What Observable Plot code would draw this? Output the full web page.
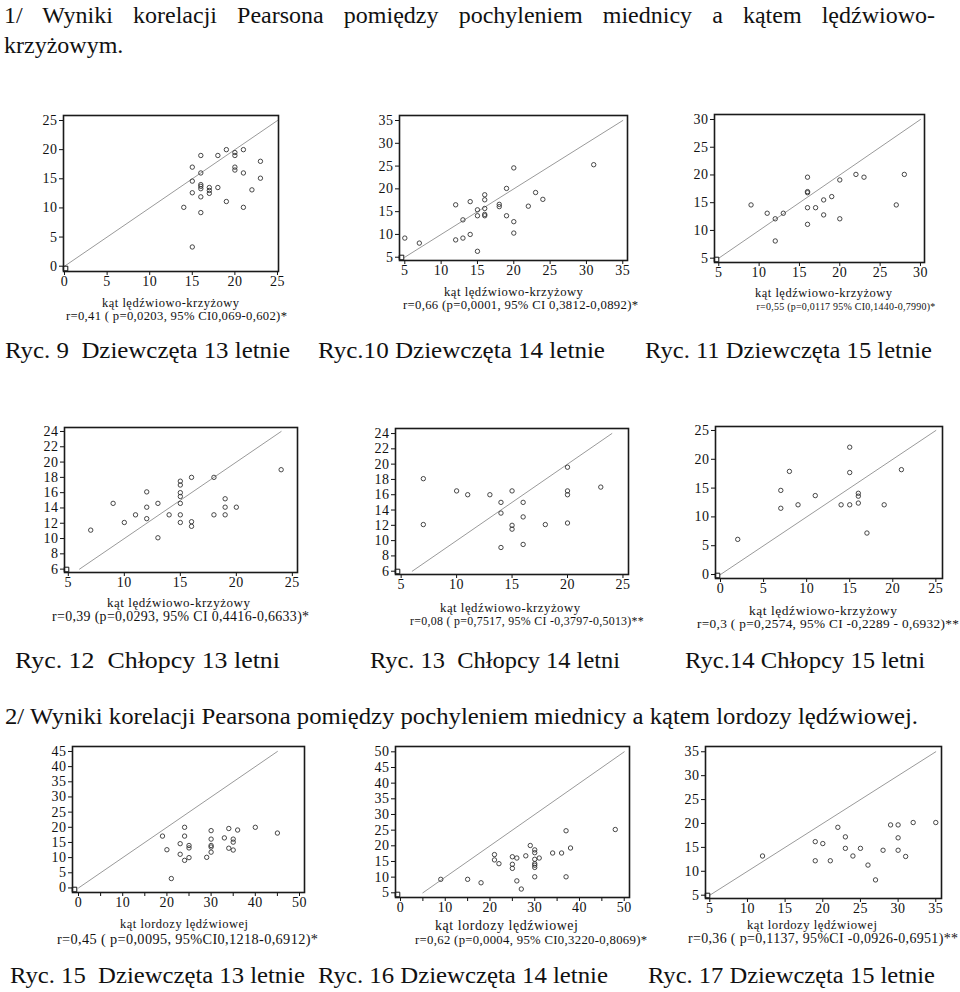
<!DOCTYPE html>
<html>
<head>
<meta charset="utf-8">
<script src="https://cdn.jsdelivr.net/npm/d3@7"></script>
<script src="https://cdn.jsdelivr.net/npm/@observablehq/plot@0.6"></script>
<style>
  html, body { margin: 0; padding: 0; background: #fff; }
  #page { position: relative; width: 960px; height: 992px; overflow: hidden; font-family: "Liberation Serif", "Times New Roman", serif; color: #111; }
  #page svg text { font-family: "Liberation Serif", "Times New Roman", serif; font-size: 14px; letter-spacing: 0.5px; }
  .abs { position: absolute; }
  .big { font-size: 24px; line-height: 24px; white-space: pre; }
  .just { white-space: normal; text-align: justify; text-align-last: justify; }
  .fit { white-space: pre; line-height: 0.85; }
</style>
</head>
<body>
<div id="page"></div>
<script>
// ---------- data (x = angle, y = pelvic tilt) ----------
const ryc9 = [[15,17],[16,19],[18,19],[19,20],[20,19.5],[20,19],[21,20],[23,18],[20,17],[20,16.5],[21,16],[16,16],[15,14.6],[16,14],[16,13.7],[16,13.3],[17,13.5],[17,13],[17,12.5],[18,13.5],[15,12.6],[16,11.9],[19,11.1],[22,13.1],[23,15.1],[14,10.1],[21,10.1],[16,9.2],[15,3.3]];
const ryc10 = [[5,9.2],[7,8.1],[12,16.5],[12,8.8],[13,13.2],[13,9.2],[14,17.2],[14,10],[15,15.4],[15,14.1],[15,6.3],[16,18.7],[16,17.6],[16,15.7],[16,14.4],[16,14.1],[18,16.6],[18,16.1],[19,20.1],[19,14.1],[20,24.6],[20,12.8],[20,10.3],[22,16.2],[23,19.2],[24,17.7],[31,25.3]];
const ryc11 = [[9,14.6],[11,13.1],[12,12.1],[12,8.1],[13,13.1],[16,19.6],[16,17.0],[16,16.8],[16,14.1],[16,11.1],[17,14.1],[18,15.5],[18,12.8],[19,16.1],[20,19.1],[20,12.1],[22,20.1],[23,19.6],[27,14.6],[28,20.1]];
const ryc12 = [[7,11.1],[9,14.6],[10,12.1],[11,13.1],[12,16.1],[12,14.1],[12,12.6],[13,14.6],[13,10.1],[14,13.1],[15,17.5],[15,17.0],[15,16.0],[15,15.5],[15,14.6],[15,13.1],[15,12.1],[16,18],[16,12.2],[16,11.6],[18,18],[18,13.1],[19,15.2],[19,14.1],[19,13.1],[20,14.1],[24,19]];
const ryc13 = [[7,18.1],[7,12.1],[10,16.5],[11,16],[13,16],[14,15],[14,13.6],[14,9.1],[15,16.5],[15,12],[15,11.5],[16,15],[16,13.1],[16,9.5],[18,12.1],[20,19.6],[20,16.5],[20,16],[20,12.3],[23,17]];
const ryc14 = [[2,6.1],[7,14.6],[7,11.5],[8,17.9],[9,12.1],[11,13.7],[14,12.1],[15,22.1],[15,17.7],[15,12.1],[16,14.1],[16,13.6],[16,12.4],[17,7.2],[19,12.1],[21,18.2]];
const ryc15 = [[19,17.1],[20,12.6],[21,3.1],[23,14.6],[23,11.1],[24,20],[24,17.1],[24,9.1],[25,14],[25,13.2],[25,10],[29,10.1],[30,18.9],[30,16.1],[30,14],[30,13.5],[30,11.8],[33,16.5],[34,19.6],[34,13.1],[35,16.1],[35,15.1],[35,12.5],[36,19.1],[40,20],[45,18.1]];
const ryc16 = [[9,9.3],[15,9.3],[18,8.2],[21,17.2],[21,15.5],[22,14.3],[25,16.5],[25,14.1],[25,12.8],[26,16.1],[26,8.8],[27,6.2],[28,16.8],[29,20.1],[30,18.7],[30,17.8],[30,15.7],[30,14.3],[30,13.8],[30,13.1],[30,10.1],[31,16.1],[34,17.7],[36,17.7],[37,24.8],[37,10.1],[38,19.3],[48,25.2]];
const ryc17 = [[12,13.2],[19,16.2],[19,12.2],[20,15.8],[21,12.2],[22,19.2],[23,17.2],[23,14.8],[24,13.2],[25,14.8],[26,11.3],[27,8.2],[28,14.4],[29,19.7],[30,19.7],[30,17],[30,14.4],[31,13.1],[32,20.2],[35,20.2]];

// ---------- tick labels ----------
const t0_25 = [0,5,10,15,20,25];
const t5_35 = [5,10,15,20,25,30,35];
const t5_30 = [5,10,15,20,25,30];
const t5_25 = [5,10,15,20,25];
const t6_24 = [6,8,10,12,14,16,18,20,22,24];
const t0_50 = [0,5,10,15,20,25,30,35,40,45,50];
const t0_45 = [0,5,10,15,20,25,30,35,40,45];
const t5_50 = [5,10,15,20,25,30,35,40,45,50];

// ---------- identity lines (x = y) ----------
const diag9 = [0,25], diag10 = [5,35], diag11 = [5,30], diag12 = [6,24], diag13 = [6,24], diag14 = [0,25], diag15 = [0,45], diag16 = [5,50], diag17 = [5,35];

// ---------- texts ----------
const labLK = "kąt lędźwiowo-krzyżowy";
const labLL = "kąt lordozy lędźwiowej";
const rTexts = [
  "r=0,41 ( p=0,0203, 95% CI0,069-0,602)*",
  "r=0,66 (p=0,0001, 95% CI 0,3812-0,0892)*",
  "r=0,55 (p=0,0117 95% CI0,1440-0,7990)*",
  "r=0,39 (p=0,0293, 95% CI 0,4416-0,6633)*",
  "r=0,08 ( p=0,7517, 95% CI -0,3797-0,5013)**",
  "r=0,3 ( p=0,2574, 95% CI -0,2289 - 0,6932)**",
  "r=0,45 ( p=0,0095, 95%CI0,1218-0,6912)*",
  "r=0,62 (p=0,0004, 95% CI0,3220-0,8069)*",
  "r=0,36 ( p=0,1137, 95%CI -0,0926-0,6951)**"
];
const title1a = "1/ Wyniki korelacji Pearsona pomiędzy pochyleniem miednicy a kątem lędźwiowo-";
const title1b = "krzyżowym.";
const title2 = "2/ Wyniki korelacji Pearsona pomiędzy pochyleniem miednicy a kątem lordozy lędźwiowej.";
const captions = [
  "Ryc. 9  Dziewczęta 13 letnie", "Ryc.10 Dziewczęta 14 letnie", "Ryc. 11 Dziewczęta 15 letnie",
  "Ryc. 12  Chłopcy 13 letni", "Ryc. 13  Chłopcy 14 letni", "Ryc.14 Chłopcy 15 letni",
  "Ryc. 15  Dziewczęta 13 letnie", "Ryc. 16 Dziewczęta 14 letnie", "Ryc. 17 Dziewczęta 15 letnie"
];

// ---------- layout ----------
// xl / rl: [centerX, centerY, width]
const panels = [
  {data: ryc9,  frame:[63,115,278,271], xd:[-0.12,25.12], yd:[-0.91,25.86], xt:t0_25, yt:t0_25, diag:diag9,  xlab:labLK, xl:[170.5,303,137], rl:[176.5,316,221]},
  {data: ryc10, frame:[399,115,627,260], xd:[4.27,35.65], yd:[4.28,36.1], xt:t5_35, yt:t5_35, diag:diag10, xlab:labLK, xl:[513.5,292,139], rl:[520.5,305,235]},
  {data: ryc11, frame:[714,114,924,262], xd:[4.47,30.5], yd:[4.22,30.9], xt:t5_30, yt:t5_30, diag:diag11, xlab:labLK, xl:[823.5,293,137], rl:[846,307,179]},
  {data: ryc12, frame:[64,427,297,572], xd:[4.66,25.46], yd:[5.56,24.52], xt:t5_25, yt:t6_24, diag:diag12, xlab:labLK, xl:[178.5,603,143], rl:[180.5,616.5,257]},
  {data: ryc13, frame:[395,428,628,574], xd:[4.49,25.5], yd:[5.57,24.66], xt:t5_25, yt:t6_24, diag:diag13, xlab:labLK, xl:[510,608,140], rl:[527,621,234]},
  {data: ryc14, frame:[715,426,942,578], xd:[-0.58,25.77], yd:[-0.69,25.69], xt:t0_25, yt:t0_25, diag:diag14, xlab:labLK, xl:[823,610.5,148], rl:[828,624,262]},
  {data: ryc15, frame:[72,746,304,892], xd:[-1.36,51.13], yd:[-1.5,46.64], xt:t0_50, yt:t0_45, diag:diag15, xlab:labLL, xl:[184,924,128], rl:[187.5,939,261], xEvery:10},
  {data: ryc16, frame:[395,746,629,897], xd:[-1.12,51.18], yd:[3.5,51.7], xt:t0_50, yt:t5_50, diag:diag16, xlab:labLL, xl:[506.5,926,143], rl:[531,940,232], xEvery:10},
  {data: ryc17, frame:[705,746,941,898], xd:[4.43,35.76], yd:[4.31,36.1], xt:t5_35, yt:t5_35, diag:diag17, xlab:labLL, xl:[812,925,130], rl:[823,939,270]}
];
// caption boxes: [left, top, width]
const captionPos = [[5,338,285],[318,338,287],[645,338,287],[15,648,265],[370,648,250],[685,648,240],[10,963,295],[318,963,290],[648,963,287]];

const page = document.getElementById("page");
function addText(txt, cls, left, top, extra) {
  const d = document.createElement("div");
  d.className = "abs " + cls;
  d.textContent = txt;
  d.style.left = left + "px";
  d.style.top = top + "px";
  if (extra) Object.assign(d.style, extra);
  page.appendChild(d);
  return d;
}
// a text line scaled so that it spans a given width, centred on (cx, cy)
function fitText(txt, cx, cy, w, ls) {
  const base = 12;
  const d = addText(txt, "fit", 0, 0, {fontSize: base + "px", letterSpacing: ls + "px"});
  const nat = d.getBoundingClientRect().width - ls;
  const s = base * w / nat;
  d.style.fontSize = s.toFixed(2) + "px";
  d.style.letterSpacing = (ls * s / base).toFixed(2) + "px";
  d.style.left = (cx - w / 2) + "px";
  d.style.top = (cy - s * 0.85 / 2) + "px";
  return d;
}
// a 24px line stretched horizontally to span a given width
function stretchText(txt, left, top, w) {
  const d = addText(txt, "big", left, top);
  const nat = d.getBoundingClientRect().width;
  d.style.transformOrigin = "0 0";
  d.style.transform = "scaleX(" + (w / nat).toFixed(4) + ")";
  return d;
}

// Titles
addText(title1a, "big just", 4, 3, {width: "931px"});
addText(title1b, "big", 4, 33);
stretchText(title2, 5, 704, 913);
captions.forEach((c, i) => stretchText(c, captionPos[i][0], captionPos[i][1], captionPos[i][2]));

const mL = 34, mR = 12, mT = 10, mB = 26;
panels.forEach((p, i) => {
  const [fl, ft, fr, fb] = p.frame;
  const w = fr - fl, h = fb - ft;
  const line = p.diag.map(v => ({x: v, y: v}));
  const every = p.xEvery;
  const chart = Plot.plot({
    width: w + mL + mR,
    height: h + mT + mB,
    marginLeft: mL, marginRight: mR, marginTop: mT, marginBottom: mB,
    style: {fontFamily: "'Liberation Serif', 'Times New Roman', serif", background: "transparent", overflow: "visible", color: "#111"},
    x: {domain: p.xd},
    y: {domain: p.yd},
    marks: [
      Plot.line(line, {x: "x", y: "y", stroke: "#9a9a9a", strokeWidth: 1}),
      Plot.dot(p.data, {x: d => d[0], y: d => d[1], r: 2.2, stroke: "#333", strokeWidth: 0.9, fill: "none"}),
      Plot.dot([[p.xd[0], p.yd[0]]], {x: d => d[0], y: d => d[1], symbol: "square", r: 2.6, dx: 2, dy: -3, stroke: "#111", strokeWidth: 1, fill: "none"}),
      Plot.axisX(p.xt, {anchor: "bottom", tickSize: 4, tickPadding: 1, label: null,
        tickFormat: every ? (d => d % every === 0 ? d : "") : (d => d)}),
      Plot.axisY(p.yt, {anchor: "left", tickSize: 4, tickPadding: 2, label: null}),
      Plot.frame({stroke: "#1a1a1a", strokeWidth: 1.6})
    ]
  });
  chart.style.position = "absolute";
  chart.style.left = (fl - mL) + "px";
  chart.style.top = (ft - mT) + "px";
  page.appendChild(chart);

  fitText(p.xlab, p.xl[0], p.xl[1], p.xl[2], 0.5);
  fitText(rTexts[i], p.rl[0], p.rl[1], p.rl[2], 0.3);
});
</script>
</body>
</html>
